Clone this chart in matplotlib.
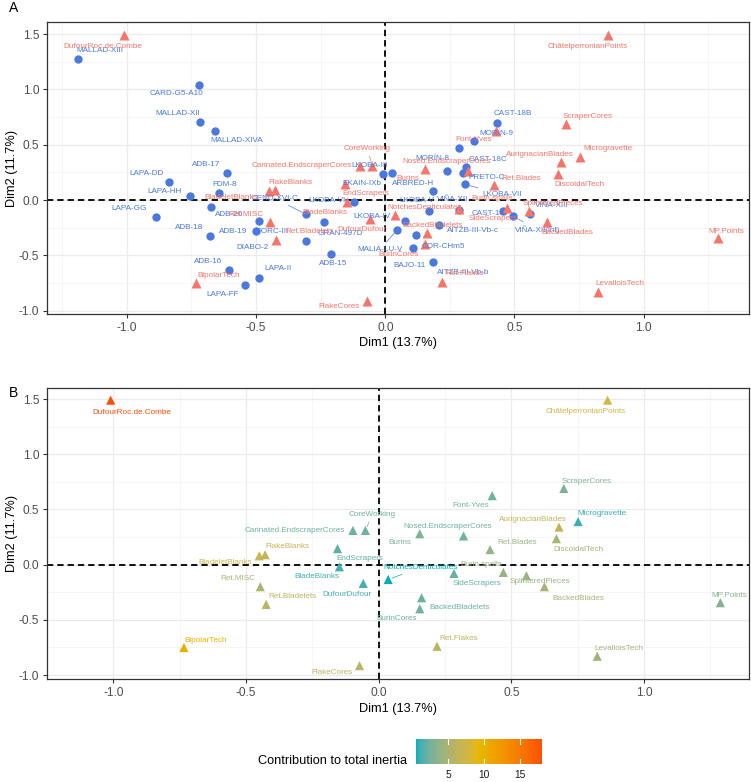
import matplotlib
matplotlib.use("Agg")
import matplotlib.pyplot as plt
from matplotlib.colors import ListedColormap, Normalize, to_rgb
import numpy as np

plt.rcParams['font.family'] = ['Liberation Sans', 'DejaVu Sans']
plt.rcParams['axes.unicode_minus'] = False

# ---------------- data ----------------
var_names = ["DufourRoc.de.Combe", "ChâtelperronianPoints", "ScraperCores", "Font-Yves",
             "Microgravette", "AurignacianBlades", "DiscoidalTech", "Ret.Blades",
             "CoreWorking", "Carinated.EndscraperCores", "Nosed.EndscraperCores", "Burins",
             "FlakeBlanks", "BladeletBlanks", "EndScrapers", "BladeBlanks",
             "NotchesDenticulates", "DufourDufour", "Ret.MISC", "Ret.Bladelets",
             "BipolarTech", "FlakeCores", "Burin.spalls", "SideScrapers",
             "SplinteredPieces", "BackedBlades", "MP.Points", "BackedBladelets",
             "BurinCores", "Ret.Flakes", "LevalloisTech"]
var_x = [-1.01, 0.863, 0.698, 0.428, 0.752, 0.68, 0.67, 0.42,
         -0.05, -0.097, 0.32, 0.155, -0.428, -0.45, -0.155, -0.148,
         0.036, -0.058, -0.446, -0.424, -0.734, -0.072, 0.47, 0.284,
         0.557, 0.625, 1.288, 0.162, 0.155, 0.22, 0.824]
var_y = [1.49, 1.49, 0.69, 0.625, 0.39, 0.34, 0.235, 0.136,
         0.31, 0.31, 0.26, 0.28, 0.09, 0.08, 0.145, -0.02,
         -0.135, -0.17, -0.20, -0.36, -0.75, -0.915, -0.07, -0.08,
         -0.10, -0.20, -0.345, -0.30, -0.40, -0.74, -0.83]
var_contrib = [17.9, 7.5, 3.0, 2.5, 1.0, 6.5, 4.8, 4.0,
               2.3, 2.3, 2.2, 2.8, 6.5, 6.8, 1.8, 1.2,
               0.6, 1.2, 5.0, 6.0, 10.0, 6.0, 4.0, 2.0,
               4.2, 4.8, 3.2, 2.2, 2.2, 6.0, 4.5]

ind_names = ["MALLAD-XIII", "CARD-G5-A10", "MALLAD-XII", "MALLAD-XIVA", "ADB-17", "LAPA-DD",
             "FDM-8", "LAPA-HH", "LAPA-GG", "ADB-20", "FORC-III", "ADB-19", "ADB-18",
             "ADB-16", "LAPA-FF", "LAPA-II", "DIABO-2", "GRAN-497D", "CEND-XVI-C",
             "LKOBA-VI", "LKOBA-III", "EKAIN-IXb", "ARBRED-H", "MORÍN-8", "",
             "CAST-18C", "PRETO-C", "CAST-18B", "MORÍN-9", "LKOBA-VII", "LKOBA-V",
             "VIÑA-XII", "LKOBA-IV", "CAST-16", "VIÑA-XII(inf)", "VIÑA-XIII",
             "AITZB-III-Vb-c", "COR-CHm5", "MALIA-LU-V", "BAJO-11", "AITZB-III-Vb-b", "ADB-15"]
ind_x = [-1.188, -0.721, -0.717, -0.659, -0.613, -0.838,
         -0.644, -0.756, -0.888, -0.675, -0.489, -0.500, -0.678,
         -0.605, -0.543, -0.489, -0.307, -0.237, -0.307,
         -0.121, -0.009, 0.026, 0.185, 0.239, 0.285,
         0.312, 0.300, 0.432, 0.343, 0.308, 0.169,
         0.285, 0.076, 0.455, 0.494, 0.560,
         0.208, 0.119, 0.045, 0.107, 0.185, -0.210]
ind_y = [1.277, 1.036, 0.702, 0.621, 0.241, 0.160,
         0.061, 0.033, -0.156, -0.066, -0.192, -0.283, -0.328,
         -0.635, -0.771, -0.707, -0.373, -0.201, -0.129,
         -0.021, 0.232, 0.241, 0.079, 0.259, 0.467,
         0.295, 0.241, 0.694, 0.530, 0.142, -0.102,
         -0.093, -0.192, -0.095, -0.147, -0.129,
         -0.229, -0.319, -0.274, -0.436, -0.563, -0.491]

# ---------------- label placement (pixel offsets, style only) ----------------
ind_off = [(22, 8), (-22, -8), (-22, 9), (22, -9), (-21, 9), (-22, 9),
           (6, 9), (-25, 5), (-27, 9), (18, -7), (14, -10), (-23, 0), (-21, 9),
           (-21, 9), (-22, -9), (19, 10), (-53, -6), (16, -11), (-31, 16),
           (-27, 2), (-13, 9), (-30, -10), (-20, 8), (-15, 13), (0, 0),
           (22, 8), (24, -4), (16, 10), (22, 8), (37, -10), (-12, 11),
           (-6, 11), (-33, 5), (-15, -3), (25, -13), (22, 9),
           (34, -5), (27, -11), (-17, -19), (-3, -17), (30, -10), (2, -9)]
ind_seg = {"CEND-XVI-C", "LKOBA-VII", "VIÑA-XII(inf)", "MALIA-LU-V"}

varA_off = {"DufourRoc.de.Combe": (-21, -11), "ChâtelperronianPoints": (-21, -11),
            "ScraperCores": (22, 7), "Font-Yves": (-22, -9), "Microgravette": (28, 8),
            "AurignacianBlades": (-21, 8), "DiscoidalTech": (21, -10), "Ret.Blades": (27, 6),
            "CoreWorking": (-5, 17), "Carinated.EndscraperCores": (-58, 0),
            "Nosed.EndscraperCores": (-21, 10), "Burins": (-18, -9), "FlakeBlanks": (16, 8),
            "BladeletBlanks": (-38, -6), "EndScrapers": (21, -10), "BladeBlanks": (-22, -10),
            "NotchesDenticulates": (30, 7), "DufourDufour": (-8, -11), "Ret.MISC": (-24, 8),
            "Ret.Bladelets": (34, 8), "BipolarTech": (23, 8), "FlakeCores": (-28, -5),
            "Burin.spalls": (-14, 9), "SideScrapers": (34, -10), "SplinteredPieces": (24, 8),
            "BackedBlades": (21, -10), "MP.Points": (8, 7), "BackedBladelets": (5, 8),
            "BurinCores": (-27, -10), "Ret.Flakes": (23, 8), "LevalloisTech": (22, 8)}
varB_off = {"DufourRoc.de.Combe": (21, -12), "ChâtelperronianPoints": (-22, -11),
            "ScraperCores": (23, 7), "Font-Yves": (-21, -10), "Microgravette": (24, 8),
            "AurignacianBlades": (-26, 8), "DiscoidalTech": (22, -11), "Ret.Blades": (27, 7),
            "CoreWorking": (7, 16), "Carinated.EndscraperCores": (-58, 0),
            "Nosed.EndscraperCores": (-16, 9), "Burins": (-20, -9), "FlakeBlanks": (22, 8),
            "BladeletBlanks": (-34, -7), "EndScrapers": (22, -10), "BladeBlanks": (-22, -10),
            "NotchesDenticulates": (32, 12), "DufourDufour": (-16, -11), "Ret.MISC": (-22, 8),
            "Ret.Bladelets": (26, 8), "BipolarTech": (22, 7), "FlakeCores": (-28, -7),
            "Burin.spalls": (-22, 8), "SideScrapers": (23, -10), "SplinteredPieces": (13, -6),
            "BackedBlades": (34, -12), "MP.Points": (9, 7), "BackedBladelets": (38, -10),
            "BurinCores": (-23, -10), "Ret.Flakes": (22, 8), "LevalloisTech": (22, 8)}
varA_seg = {"CoreWorking"}
varB_seg = {"CoreWorking", "NotchesDenticulates"}


# ---------------- colour ramp interpolated in CIELAB (like scales::gradient_n_pal) ----------------
def _srgb_to_lab(rgb):
    c = np.array(rgb, dtype=float)
    lin = np.where(c <= 0.04045, c / 12.92, ((c + 0.055) / 1.055) ** 2.4)
    M = np.array([[0.4124, 0.3576, 0.1805], [0.2126, 0.7152, 0.0722], [0.0193, 0.1192, 0.9505]])
    xyz = M @ lin / np.array([0.95047, 1.0, 1.08883])
    f = np.where(xyz > 0.008856, np.cbrt(xyz), 7.787 * xyz + 16 / 116)
    return np.array([116 * f[1] - 16, 500 * (f[0] - f[1]), 200 * (f[1] - f[2])])


def _lab_to_srgb(lab):
    L, a, b = lab
    fy = (L + 16) / 116
    fx = fy + a / 500
    fz = fy - b / 200
    f = np.array([fx, fy, fz])
    xyz = np.where(f ** 3 > 0.008856, f ** 3, (f - 16 / 116) / 7.787) * np.array([0.95047, 1.0, 1.08883])
    Minv = np.array([[3.2406, -1.5372, -0.4986], [-0.9689, 1.8758, 0.0415], [0.0557, -0.2040, 1.0570]])
    lin = Minv @ xyz
    c = np.where(lin <= 0.0031308, 12.92 * lin, 1.055 * np.clip(lin, 0, None) ** (1 / 2.4) - 0.055)
    return np.clip(c, 0, 1)


stops = [_srgb_to_lab(to_rgb(h)) for h in ["#00AFBB", "#E7B800", "#FC4E07"]]
ramp = []
for t in np.linspace(0, 1, 256):
    seg = min(int(t * 2), 1)
    u = t * 2 - seg
    ramp.append(_lab_to_srgb(stops[seg] * (1 - u) + stops[seg + 1] * u))
cmap = ListedColormap(ramp)
norm = Normalize(vmin=0.55, vmax=17.9)

# ---------------- figure ----------------
W, H = 751, 782
fig = plt.figure(figsize=(W / 100, H / 100), dpi=100)


def fr(l, t, r, b):
    return [l / W, 1 - b / H, (r - l) / W, (b - t) / H]


BLUE = "#4A78DE"
RED = "#F5756A"
LFS = 5.9


def style(ax, xlim, ylim):
    ax.set_xlim(*xlim)
    ax.set_ylim(*ylim)
    ax.set_xticks([-1.0, -0.5, 0.0, 0.5, 1.0])
    ax.set_yticks([-1.0, -0.5, 0.0, 0.5, 1.0, 1.5])
    ax.set_xticks([-1.25, -0.75, -0.25, 0.25, 0.75, 1.25], minor=True)
    ax.set_yticks([-0.75, -0.25, 0.25, 0.75, 1.25], minor=True)
    ax.grid(which='major', color='#EBEBEB', lw=0.9, zorder=0)
    ax.grid(which='minor', color='#F3F3F3', lw=0.5, zorder=0)
    ax.set_axisbelow(True)
    ax.tick_params(which='minor', length=0)
    ax.tick_params(which='major', length=3, width=0.8, color='#333333',
                   labelsize=8.6, labelcolor='#4D4D4D', pad=2.5)
    for s in ax.spines.values():
        s.set_color('#333333')
        s.set_linewidth(0.9)
    ax.axhline(0, color='black', lw=1.3, ls=(0, (3.5, 2.2)), zorder=1)
    ax.axvline(0, color='black', lw=1.3, ls=(0, (3.5, 2.2)), zorder=1)


def label(ax, x, y, txt, off, color, seg):
    kw = {}
    if seg:
        kw['arrowprops'] = dict(arrowstyle='-', color=color, lw=0.5, shrinkA=1, shrinkB=3)
    ax.annotate(txt, (x, y), xytext=off, textcoords='offset pixels',
                ha='center', va='center', fontsize=LFS, color=color, zorder=5, **kw)


# ---------- Panel A ----------
axA = fig.add_axes(fr(47, 22.3, 749, 314))
style(axA, (-1.309, 1.4075), (-1.030, 1.606))
axA.plot(ind_x, ind_y, 'o', ms=6.0, color=BLUE, mec='none', zorder=3)
axA.plot(var_x, var_y, '^', ms=6.6, color=RED, mec='none', zorder=4)
for n, x, y, o in zip(ind_names, ind_x, ind_y, ind_off):
    if n:
        label(axA, x, y, n, o, BLUE, n in ind_seg)
for n, x, y in zip(var_names, var_x, var_y):
    label(axA, x, y, n, varA_off[n], RED, n in varA_seg)

# ---------- Panel B ----------
axB = fig.add_axes(fr(47, 388, 749, 679))
style(axB, (-1.123, 1.396), (-1.036, 1.60))
cols = cmap(norm(np.array(var_contrib)))
axB.scatter(var_x, var_y, marker='^', s=6.6 ** 2, c=cols, edgecolors='none', zorder=4)
for n, x, y, c in zip(var_names, var_x, var_y, cols):
    label(axB, x, y, n, varB_off[n], c, n in varB_seg)

# ---------- titles ----------
TFS = 9.2
fig.text(398 / W, 1 - 343 / H, "Dim1 (13.7%)", ha='center', va='center', fontsize=TFS)
fig.text(398 / W, 1 - 709 / H, "Dim1 (13.7%)", ha='center', va='center', fontsize=TFS)
fig.text(12 / W, 1 - 168 / H, "Dim2 (11.7%)", ha='center', va='center', rotation=90, fontsize=TFS)
fig.text(12 / W, 1 - 533 / H, "Dim2 (11.7%)", ha='center', va='center', rotation=90, fontsize=TFS)
fig.text(9 / W, 1 - 8 / H, "A", ha='left', va='center', fontsize=10)
fig.text(9 / W, 1 - 393 / H, "B", ha='left', va='center', fontsize=10)

# ---------- colorbar ----------
cax = fig.add_axes(fr(416, 739, 541, 764))
grad = np.linspace(0.55, 17.9, 256).reshape(1, -1)
cax.imshow(grad, cmap=cmap, norm=norm, aspect='auto', extent=[0.55, 17.9, 0, 1])
cax.set_xlim(0.55, 17.9)
cax.set_ylim(0, 1)
for s in cax.spines.values():
    s.set_visible(False)
cax.set_xticks([])
cax.set_yticks([])
for v in [5, 10, 15]:
    cax.plot([v, v], [0, 0.2], color='white', lw=0.8)
    cax.plot([v, v], [0.8, 1], color='white', lw=0.8)
    cax.text(v, -0.25, str(v), ha='center', va='top', fontsize=7.4, color='#1A1A1A')
fig.text(407 / W, 1 - 761 / H, "Contribution to total inertia", ha='right', va='center', fontsize=TFS)

fig.savefig("out.png", dpi=100)
